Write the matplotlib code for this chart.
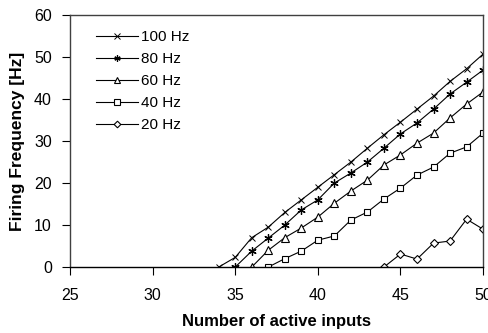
import matplotlib.pyplot as plt

plt.rcParams['font.family'] = ['Liberation Sans', 'DejaVu Sans']

# number of active inputs for each series
x100 = [34, 35, 36, 37, 38, 39, 40, 41, 42, 43, 44, 45, 46, 47, 48, 49, 50]
y100 = [0, 2.3, 7, 9.5, 13, 16, 19, 22, 25, 28.3, 31.5, 34.5, 37.6, 40.7, 44.2, 47.2, 50.7]

x80 = [35, 36, 37, 38, 39, 40, 41, 42, 43, 44, 45, 46, 47, 48, 49, 50]
y80 = [0, 3.8, 6.9, 10, 13.6, 16, 20, 22.4, 25, 28.3, 31.7, 34.3, 37.6, 41.2, 44, 46.9]

x60 = [36, 37, 38, 39, 40, 41, 42, 43, 44, 45, 46, 47, 48, 49, 50]
y60 = [0, 4, 7, 9.3, 11.9, 15.2, 18.1, 20.7, 24.3, 26.7, 29.5, 31.9, 35.5, 38.8, 41.7]

x40 = [37, 38, 39, 40, 41, 42, 43, 44, 45, 46, 47, 48, 49, 50]
y40 = [0, 2, 3.8, 6.4, 7.4, 11.2, 13.1, 16.2, 18.8, 21.9, 23.8, 27.1, 28.6, 31.9]

x20 = [44, 45, 46, 47, 48, 49, 50]
y20 = [0, 3.1, 1.9, 5.7, 6.2, 11.4, 9]

fig = plt.figure(figsize=(4.89, 3.33), dpi=100)
ax = fig.add_axes([0.143, 0.198, 0.845, 0.757])

lw = 0.8
ax.plot(x100, y100, color='black', lw=lw, marker='x', ms=5, mew=0.7, label='100 Hz')
ax.plot(x80, y80, color='black', lw=lw, marker=(6, 2, 0), ms=6, mew=0.9, label='80 Hz')
ax.plot(x60, y60, color='black', lw=lw, marker='^', ms=6, mfc='white', mew=0.8, label='60 Hz')
ax.plot(x40, y40, color='black', lw=lw, marker='s', ms=5, mfc='white', mew=0.8, label='40 Hz')
ax.plot(x20, y20, color='black', lw=lw, marker='D', ms=4.5, mfc='white', mew=0.8, label='20 Hz')

ax.set_xlim(25, 50)
ax.set_ylim(0, 60)
ax.set_xticks([25, 30, 35, 40, 45, 50])
ax.set_yticks([0, 10, 20, 30, 40, 50, 60])
ax.tick_params(direction='out', length=6, width=0.8, labelsize=11.5, colors='black')
ax.tick_params(axis='x', pad=9)
ax.tick_params(axis='y', pad=7)

for s in ax.spines.values():
    s.set_color('#404040')
    s.set_linewidth(1.0)
ax.spines['bottom'].set_color('black')

ax.set_xlabel('Number of active inputs', fontweight='bold', fontsize=12)
ax.set_ylabel('Firing Frequency [Hz]', fontweight='bold', fontsize=12.5)
ax.xaxis.set_label_coords(0.5, -0.185)
ax.yaxis.set_label_coords(-0.108, 0.5)

ax.legend(loc='upper left', bbox_to_anchor=(0.063, 0.94), frameon=False, fontsize=11,
          handlelength=2.75, labelspacing=0.52, handletextpad=0.2, markerscale=0.75,
          borderaxespad=0, borderpad=0)

fig.savefig('out.png', dpi=100)
